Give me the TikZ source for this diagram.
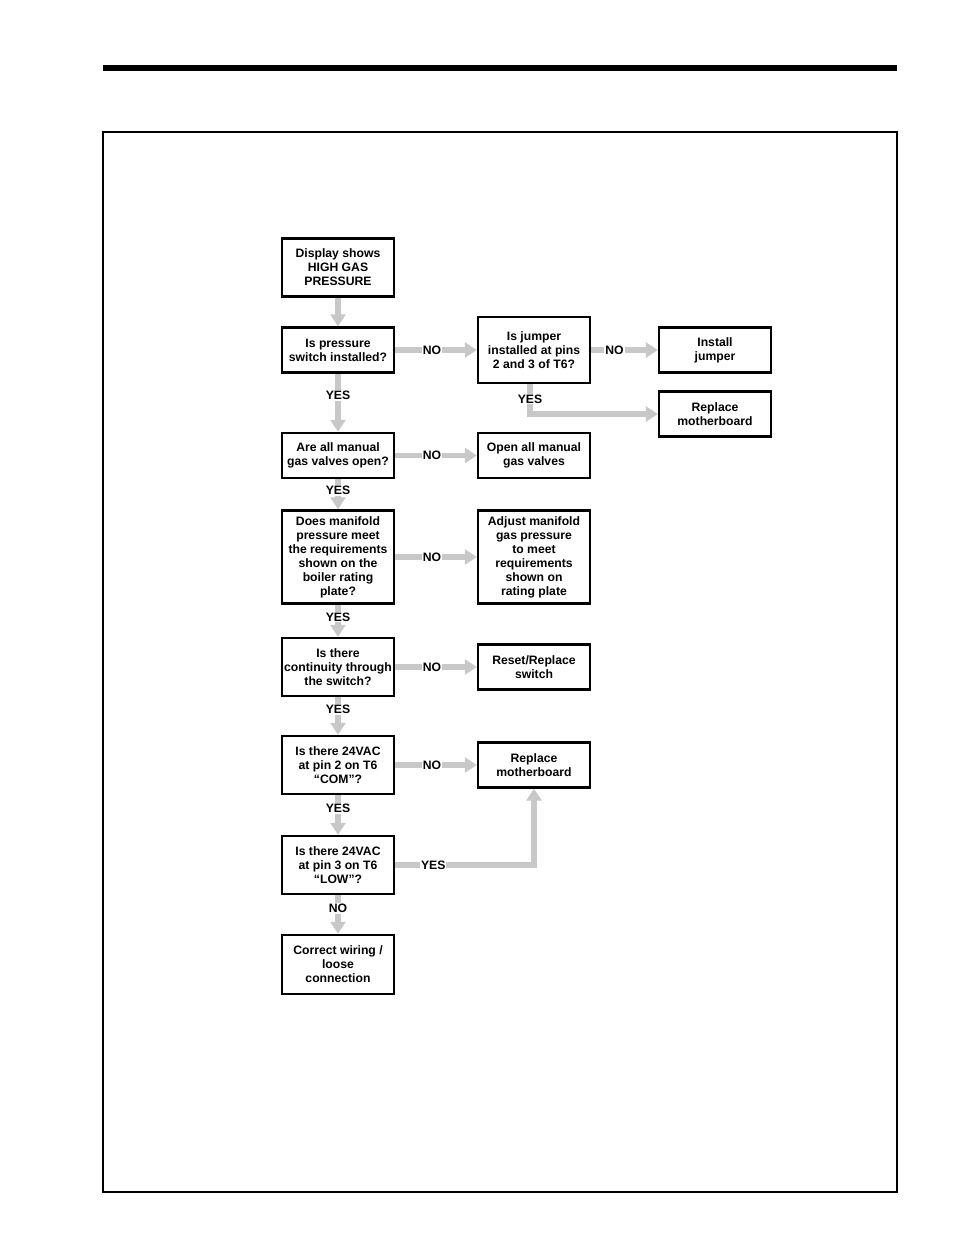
\documentclass[tikz,border=0pt]{standalone}
\usepackage{fontspec}
\setmainfont{Liberation Sans}
\usetikzlibrary{arrows.meta}
\definecolor{flowgray}{RGB}{200,200,200}
\newcommand{\chartfont}{\fontsize{12.2}{14}\selectfont\bfseries}

\begin{document}
\begin{tikzpicture}[x=1pt, y=-1pt,
    box/.style={draw, line width=2.4pt, minimum width=112pt, inner sep=0pt, align=center, font=\chartfont},
    flow/.style={draw=flowgray, line width=5.5pt, -{Triangle[width=15pt,length=12pt]}},
    lbl/.style={fill=white, inner sep=1pt, text=black, font=\chartfont}]
    % --- 1. page frame ---
    \useasboundingbox (0,0) rectangle (954,1235);
    \fill (103,65) rectangle (897,71);
    \draw[line width=1.3pt] (103,132) rectangle (897,1192);

    % --- 2. left column (questions) ---
    \node[box, minimum height=58pt] (disp) at (338,267.5) {Display shows\\HIGH GAS\\PRESSURE};
    \node[box, minimum height=45pt] (qsw) at (338,350) {Is pressure\\switch installed?};
    \node[box, minimum height=45pt] (qvalve) at (338,455.5) {Are all manual\\gas valves open?};
    \node[box, minimum height=93pt] (qmanif) at (338,557) {Does manifold\\pressure meet\\the requirements\\shown on the\\boiler rating\\plate?};
    \node[box, minimum height=58pt] (qcont) at (338,667) {Is there\\continuity through\\the switch?};
    \node[box, minimum height=58pt] (qcom) at (338,765) {Is there 24VAC\\at pin 2 on T6\\“COM”?};
    \node[box, minimum height=58pt] (qlow) at (338,865) {Is there 24VAC\\at pin 3 on T6\\“LOW”?};
    \node[box, minimum height=59pt] (wiring) at (338,964.5) {Correct wiring /\\loose\\connection};

    % --- 3. middle column ---
    \node[box, minimum height=66pt] (qjmp) at (534,350) {Is jumper\\installed at pins\\2 and 3 of T6?};
    \node[box, minimum height=45pt] (valve) at (534,455.5) {Open all manual\\gas valves};
    \node[box, minimum height=93pt] (manif) at (534,557) {Adjust manifold\\gas pressure\\to meet\\requirements\\shown on\\rating plate};
    \node[box, minimum height=45pt] (reset) at (534,667) {Reset/Replace\\switch};
    \node[box, minimum height=45pt] (mb2) at (534,765) {Replace\\motherboard};

    % --- 4. right column ---
    \node[box, minimum height=45pt] (jmp) at (715,350) {Install\\jumper};
    \node[box, minimum height=45pt] (mb1) at (715,414) {Replace\\motherboard};

    % --- 5. connectors ---
    \draw[flow] (disp) -- (qsw);
    \draw[flow] (qsw) -- node[lbl, pos=0.45] {NO} (qjmp);
    \draw[flow] (qjmp) -- node[lbl, pos=0.35] {NO} (jmp);
    \draw[flow] ([xshift=-4pt]qjmp.south) |- node[lbl, pos=0.25] {YES} (mb1);
    \draw[flow] (qsw) -- node[lbl, pos=0.37] {YES} (qvalve);
    \draw[flow] (qvalve) -- node[lbl, pos=0.45] {NO} (valve);
    \draw[flow] (qvalve) -- node[lbl, pos=0.37] {YES} (qmanif);
    \draw[flow] (qmanif) -- node[lbl, pos=0.45] {NO} (manif);
    \draw[flow] (qmanif) -- node[lbl, pos=0.38] {YES} (qcont);
    \draw[flow] (qcont) -- node[lbl, pos=0.45] {NO} (reset);
    \draw[flow] (qcont) -- node[lbl, pos=0.33] {YES} (qcom);
    \draw[flow] (qcom) -- node[lbl, pos=0.45] {NO} (mb2);
    \draw[flow] (qcom) -- node[lbl, pos=0.33] {YES} (qlow);
    \draw[flow] (qlow) -| node[lbl, pos=0.137] {YES} (mb2);
    \draw[flow] (qlow) -- node[lbl, pos=0.34] {NO} (wiring);
\end{tikzpicture}
\end{document}
